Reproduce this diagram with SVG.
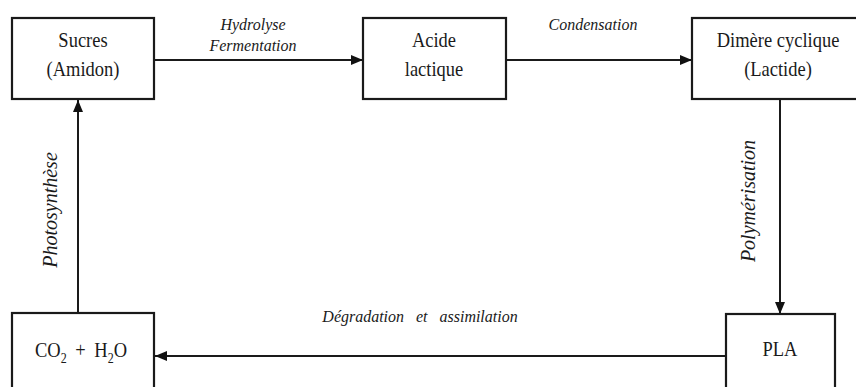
<svg xmlns="http://www.w3.org/2000/svg" width="856" height="387" viewBox="0 0 856 387">
<defs>
<marker id="arr" markerUnits="userSpaceOnUse" markerWidth="13" markerHeight="11" refX="12" refY="5" orient="auto">
<path d="M0,0 L12,5 L0,10 z" fill="#111"/>
</marker>
<style>
.box{fill:#fff;stroke:#1a1a1a;stroke-width:2.2}
.t{font-family:"Liberation Serif","Times New Roman",serif;font-size:18.5px;fill:#1a1a1a;text-anchor:middle}
.l{font-family:"Liberation Serif","Times New Roman",serif;font-size:16px;font-style:italic;fill:#1a1a1a;text-anchor:middle}
.lv{font-family:"Liberation Serif","Times New Roman",serif;font-size:20px;font-style:italic;fill:#1a1a1a;text-anchor:middle}
.c{fill:none;stroke:#1a1a1a;stroke-width:2;marker-end:url(#arr)}
</style>
</defs>
<rect width="856" height="387" fill="#fff"/>
<g id="connectors">
<line class="c" x1="155" y1="60" x2="363" y2="60"/>
<line class="c" x1="507" y1="60" x2="692" y2="60"/>
<line class="c" x1="780" y1="100" x2="780" y2="314"/>
<line class="c" x1="726" y1="356" x2="155" y2="356"/>
<line class="c" x1="78" y1="313" x2="78" y2="100"/>
<text class="l" transform="translate(253,30) scale(1,1.1)">Hydrolyse</text>
<text class="l" transform="translate(253,51) scale(1,1.1)">Fermentation</text>
<text class="l" transform="translate(593,30) scale(1,1.1)">Condensation</text>
<text class="l" transform="translate(420,322) scale(1,1.1)" word-spacing="8">Dégradation et assimilation</text>
<text class="lv" transform="translate(57,210) rotate(-90)">Photosynthèse</text>
<text class="lv" transform="translate(755,201) rotate(-90)">Polymérisation</text>
</g>
<g id="sucres">
<rect class="box" x="12" y="18" width="142" height="81"/>
<text class="t" transform="translate(83,47) scale(1,1.15)">Sucres</text>
<text class="t" transform="translate(83,76) scale(1,1.15)">(Amidon)</text>
</g>
<g id="acide">
<rect class="box" x="363" y="18" width="143" height="81"/>
<text class="t" transform="translate(434,47) scale(1,1.15)">Acide</text>
<text class="t" transform="translate(434,76) scale(1,1.15)">lactique</text>
</g>
<g id="dimere">
<rect class="box" x="692" y="18" width="180" height="81"/>
<text class="t" transform="translate(778,47) scale(1,1.15)">Dimère cyclique</text>
<text class="t" transform="translate(778,76) scale(1,1.15)">(Lactide)</text>
</g>
<g id="pla">
<rect class="box" x="726" y="314" width="109" height="90"/>
<text class="t" transform="translate(780,356) scale(1,1.15)">PLA</text>
</g>
<g id="co2">
<rect class="box" x="12" y="313" width="142" height="90"/>
<text class="t" transform="translate(81,357) scale(1,1.15)" word-spacing="4">CO<tspan font-size="12" dy="5">2</tspan><tspan dy="-5"> + H</tspan><tspan font-size="12" dy="5">2</tspan><tspan dy="-5">O</tspan></text>
</g>
</svg>
